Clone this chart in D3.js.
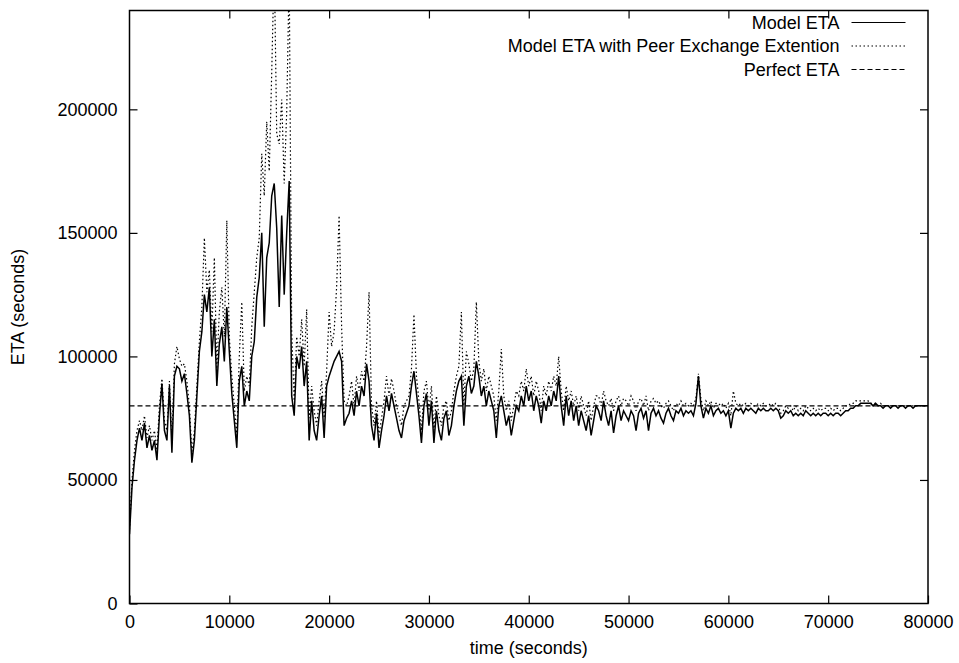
<!DOCTYPE html>
<html>
<head>
<meta charset="utf-8">
<script src="https://cdn.jsdelivr.net/npm/d3@7"></script>
<style>
  body { margin: 0; background: #fff; }
  text { font-family: "Liberation Sans", Arial, sans-serif; fill: #000; }
</style>
</head>
<body>
<script>
// sampled every 250 s, from 0 to 80000 s
var timeStep = 250;

// Model ETA (seconds)
var modelEta = [
  28000, 47000, 58000, 66000,  71000, 66000, 73000, 63000,  68000, 62000, 66000, 58000,
  76000, 89000, 70000, 66000,  88000, 61000, 92000, 96000,  95000, 90000, 93000, 85000,
  76000, 57000, 66000, 84000,  102000, 110000, 125000, 118000,  128000, 100000, 115000, 88000,
  105000, 112000, 98000, 120000,  102000, 85000, 74000, 63000,  90000, 96000, 80000, 86000,
  82000, 100000, 106000, 124000,  132000, 150000, 112000, 140000,  146000, 165000, 170000, 152000,
  120000, 157000, 125000, 150000,  171000, 84000, 76000, 100000,  95000, 104000, 88000, 98000,
  66000, 82000, 70000, 66000,  76000, 84000, 67000, 88000,  92000, 95000, 98000, 100000,
  102000, 98000, 72000, 75000,  77000, 82000, 76000, 86000,  80000, 88000, 84000, 97000,
  90000, 72000, 66000, 77000,  63000, 70000, 76000, 84000,  78000, 85000, 80000, 75000,
  70000, 67000, 74000, 77000,  80000, 88000, 94000, 85000,  76000, 65000, 80000, 85000,
  72000, 82000, 65000, 78000,  70000, 66000, 75000, 78000,  68000, 72000, 80000, 86000,
  90000, 92000, 72000, 88000,  92000, 85000, 88000, 98000,  92000, 84000, 88000, 80000,
  86000, 82000, 78000, 67000,  80000, 84000, 78000, 72000,  76000, 68000, 74000, 80000,
  78000, 84000, 80000, 88000,  82000, 86000, 78000, 84000,  80000, 73000, 82000, 78000,
  84000, 80000, 86000, 82000,  92000, 80000, 72000, 84000,  76000, 82000, 74000, 80000,
  72000, 78000, 74000, 70000,  76000, 68000, 74000, 80000,  78000, 74000, 82000, 76000,
  72000, 78000, 69000, 76000,  80000, 74000, 78000, 76000,  74000, 78000, 76000, 70000,
  77000, 79000, 75000, 78000,  70000, 77000, 79000, 76000,  78000, 75000, 73000, 77000,
  79000, 76000, 74000, 78000,  77000, 79000, 76000, 78000,  77000, 78000, 76000, 81000,
  92000, 80000, 75000, 79000,  77000, 80000, 76000, 78000,  79000, 77000, 78000, 76000,
  78000, 71000, 77000, 79000,  78000, 79000, 77000, 79000,  78000, 79000, 78000, 77000,
  79000, 78000, 79000, 78000,  78000, 79000, 78000, 79000,  78000, 75000, 76000, 78000,
  77000, 78000, 76000, 77000,  76000, 77000, 76000, 78000,  77000, 76000, 77000, 76000,
  77000, 76000, 77000, 77000,  76000, 77000, 76000, 77000,  77000, 76000, 77000, 78000,
  78000, 79000, 79000, 80000,  80000, 81000, 81000, 81000,  81000, 81000, 80000, 81000,
  80000, 80000, 79000, 80000,  80000, 79000, 80000, 80000,  79000, 80000, 80000, 79000,
  80000, 80000, 79000, 80000,  80000, 80000, 80000, 80000,  80000
];

// Model ETA with Peer Exchange Extention (seconds)
var peerEta = [
  30000, 50000, 62000, 70000,  74000, 70000, 76000, 67000,  72000, 66000, 70000, 62000,
  80000, 91000, 74000, 70000,  90000, 66000, 97000, 104000,  99000, 96000, 97000, 90000,
  80000, 61000, 70000, 88000,  106000, 120000, 148000, 126000,  135000, 110000, 140000, 95000,
  118000, 128000, 108000, 155000,  108000, 92000, 80000, 68000,  100000, 122000, 86000, 92000,
  88000, 112000, 126000, 140000,  148000, 182000, 165000, 195000,  175000, 215000, 260000, 190000,
  186000, 204000, 170000, 199000,  255000, 110000, 82000, 108000,  100000, 115000, 96000, 119000,
  75000, 88000, 78000, 72000,  82000, 90000, 75000, 94000,  118000, 104000, 110000, 128000,
  157000, 112000, 82000, 80000,  84000, 90000, 80000, 92000,  86000, 94000, 90000, 104000,
  126000, 80000, 72000, 82000,  68000, 75000, 82000, 92000,  84000, 91000, 86000, 80000,
  76000, 72000, 80000, 82000,  84000, 95000, 117000, 92000,  82000, 70000, 86000, 90000,
  78000, 88000, 70000, 84000,  76000, 72000, 80000, 82000,  74000, 78000, 86000, 92000,
  96000, 118000, 80000, 102000,  97000, 90000, 95000, 122000,  98000, 90000, 95000, 86000,
  92000, 88000, 84000, 74000,  86000, 103000, 84000, 78000,  82000, 74000, 80000, 86000,
  84000, 90000, 86000, 95000,  88000, 92000, 84000, 90000,  86000, 78000, 88000, 84000,
  90000, 86000, 92000, 88000,  100000, 86000, 78000, 88000,  82000, 86000, 80000, 84000,
  78000, 84000, 80000, 76000,  82000, 74000, 80000, 84000,  84000, 80000, 86000, 82000,
  80000, 83000, 78000, 82000,  84000, 80000, 83000, 82000,  80000, 84000, 82000, 78000,
  82000, 83000, 80000, 84000,  78000, 82000, 83000, 81000,  82000, 80000, 79000, 81000,
  82000, 80000, 78000, 81000,  80000, 82000, 80000, 81000,  80000, 81000, 80000, 83000,
  93000, 83000, 78000, 82000,  80000, 82000, 79000, 81000,  81000, 80000, 81000, 79000,
  81000, 76000, 86000, 81000,  80000, 81000, 80000, 81000,  80000, 81000, 80000, 80000,
  81000, 80000, 81000, 80000,  80000, 81000, 80000, 81000,  80000, 77000, 78000, 80000,
  79000, 80000, 78000, 80000,  78000, 79000, 78000, 80000,  79000, 78000, 79000, 78000,
  79000, 78000, 79000, 79000,  78000, 79000, 78000, 79000,  79000, 78000, 79000, 80000,
  80000, 81000, 81000, 82000,  82000, 82000, 82000, 82000,  82000, 81000, 81000, 81000,
  80000, 81000, 80000, 80000,  80000, 80000, 80000, 80000,  80000, 80000, 80000, 80000,
  80000, 80000, 80000, 80000,  80000, 80000, 80000, 80000,  80000
];

// Perfect ETA (seconds)
var perfectEta = [80000, 80000];
var perfectTime = [0, 80000];

var xTicks = [0, 10000, 20000, 30000, 40000, 50000, 60000, 70000, 80000];
var yTicks = [0, 50000, 100000, 150000, 200000];

var legendLabels = ["Model ETA", "Model ETA with Peer Exchange Extention", "Perfect ETA"];
var legendDash = ["none", "1.5,2.5", "5,3"];

var fontSize = "18px";

var margin = {top: 10.5, right: 31, bottom: 59.5, left: 129.5},
    width = 959 - margin.left - margin.right,
    height = 663 - margin.top - margin.bottom;

var svg = d3.select("body").append("svg")
    .attr("width", 959)
    .attr("height", 663);

var g = svg.append("g")
    .attr("transform", `translate(${margin.left},${margin.top})`);

var x = d3.scaleLinear().domain([0, 80000]).range([0, width]);
var y = d3.scaleLinear().domain([0, 240000]).range([height, 0]);

svg.append("defs").append("clipPath").attr("id", "plot")
  .append("rect").attr("width", width).attr("height", height);

// ticks on all four sides, pointing inward
g.append("g")
    .attr("transform", `translate(0,${height})`)
    .call(d3.axisBottom(x).tickValues(xTicks).tickFormat(d3.format("d"))
      .tickSizeInner(-8).tickSizeOuter(0).tickPadding(12))
    .call(a => a.select(".domain").remove());
g.append("g")
    .call(d3.axisTop(x).tickValues(xTicks.slice(1, -1)).tickSizeInner(-8).tickSizeOuter(0).tickFormat(""))
    .call(a => a.select(".domain").remove());
g.append("g")
    .call(d3.axisLeft(y).tickValues(yTicks).tickFormat(d3.format("d"))
      .tickSizeInner(-8).tickSizeOuter(0).tickPadding(12))
    .call(a => a.select(".domain").remove());
g.append("g")
    .attr("transform", `translate(${width},0)`)
    .call(d3.axisRight(y).tickValues(yTicks.slice(1)).tickSizeInner(-8).tickSizeOuter(0).tickFormat(""))
    .call(a => a.select(".domain").remove());

g.selectAll(".tick text")
    .style("font-size", fontSize)
    .style("font-family", "'Liberation Sans', Arial, sans-serif");
g.selectAll(".tick line").attr("stroke", "#000").attr("stroke-width", 1.2);

var line = d3.line()
    .x((d, i) => x(i * timeStep))
    .y(d => y(d));

var plot = g.append("g").attr("clip-path", "url(#plot)");

plot.append("path")
    .datum(modelEta)
    .attr("d", line)
    .attr("fill", "none")
    .attr("stroke", "#000")
    .attr("stroke-width", 1.5);

plot.append("path")
    .datum(peerEta)
    .attr("d", line)
    .attr("fill", "none")
    .attr("stroke", "#000")
    .attr("stroke-width", 1.2)
    .attr("stroke-dasharray", legendDash[1]);

plot.append("path")
    .datum(perfectEta)
    .attr("d", d3.line().x((d, i) => x(perfectTime[i])).y(d => y(d)))
    .attr("fill", "none")
    .attr("stroke", "#000")
    .attr("stroke-width", 1.1)
    .attr("stroke-dasharray", legendDash[2]);

// border
g.append("rect")
    .attr("width", width)
    .attr("height", height)
    .attr("fill", "none")
    .attr("stroke", "#000")
    .attr("stroke-width", 1.5);

// legend
var legend = g.selectAll(".legend")
    .data(legendLabels)
    .enter().append("g")
    .attr("transform", (d, i) => `translate(0,${12 + i * 23.5})`);

legend.append("text")
    .attr("x", 710)
    .attr("dy", "0.35em")
    .attr("text-anchor", "end")
    .style("font-size", fontSize)
    .text(d => d);

legend.append("line")
    .attr("x1", 722).attr("x2", 776)
    .attr("stroke", "#000")
    .attr("stroke-width", 1.1)
    .attr("stroke-dasharray", (d, i) => legendDash[i]);

// axis titles
svg.append("text")
    .attr("x", margin.left + width / 2)
    .attr("y", 654)
    .attr("text-anchor", "middle")
    .style("font-size", fontSize)
    .text("time (seconds)");

svg.append("text")
    .attr("transform", `translate(24,${margin.top + height / 2}) rotate(-90)`)
    .attr("text-anchor", "middle")
    .style("font-size", fontSize)
    .text("ETA (seconds)");
</script>
</body>
</html>
